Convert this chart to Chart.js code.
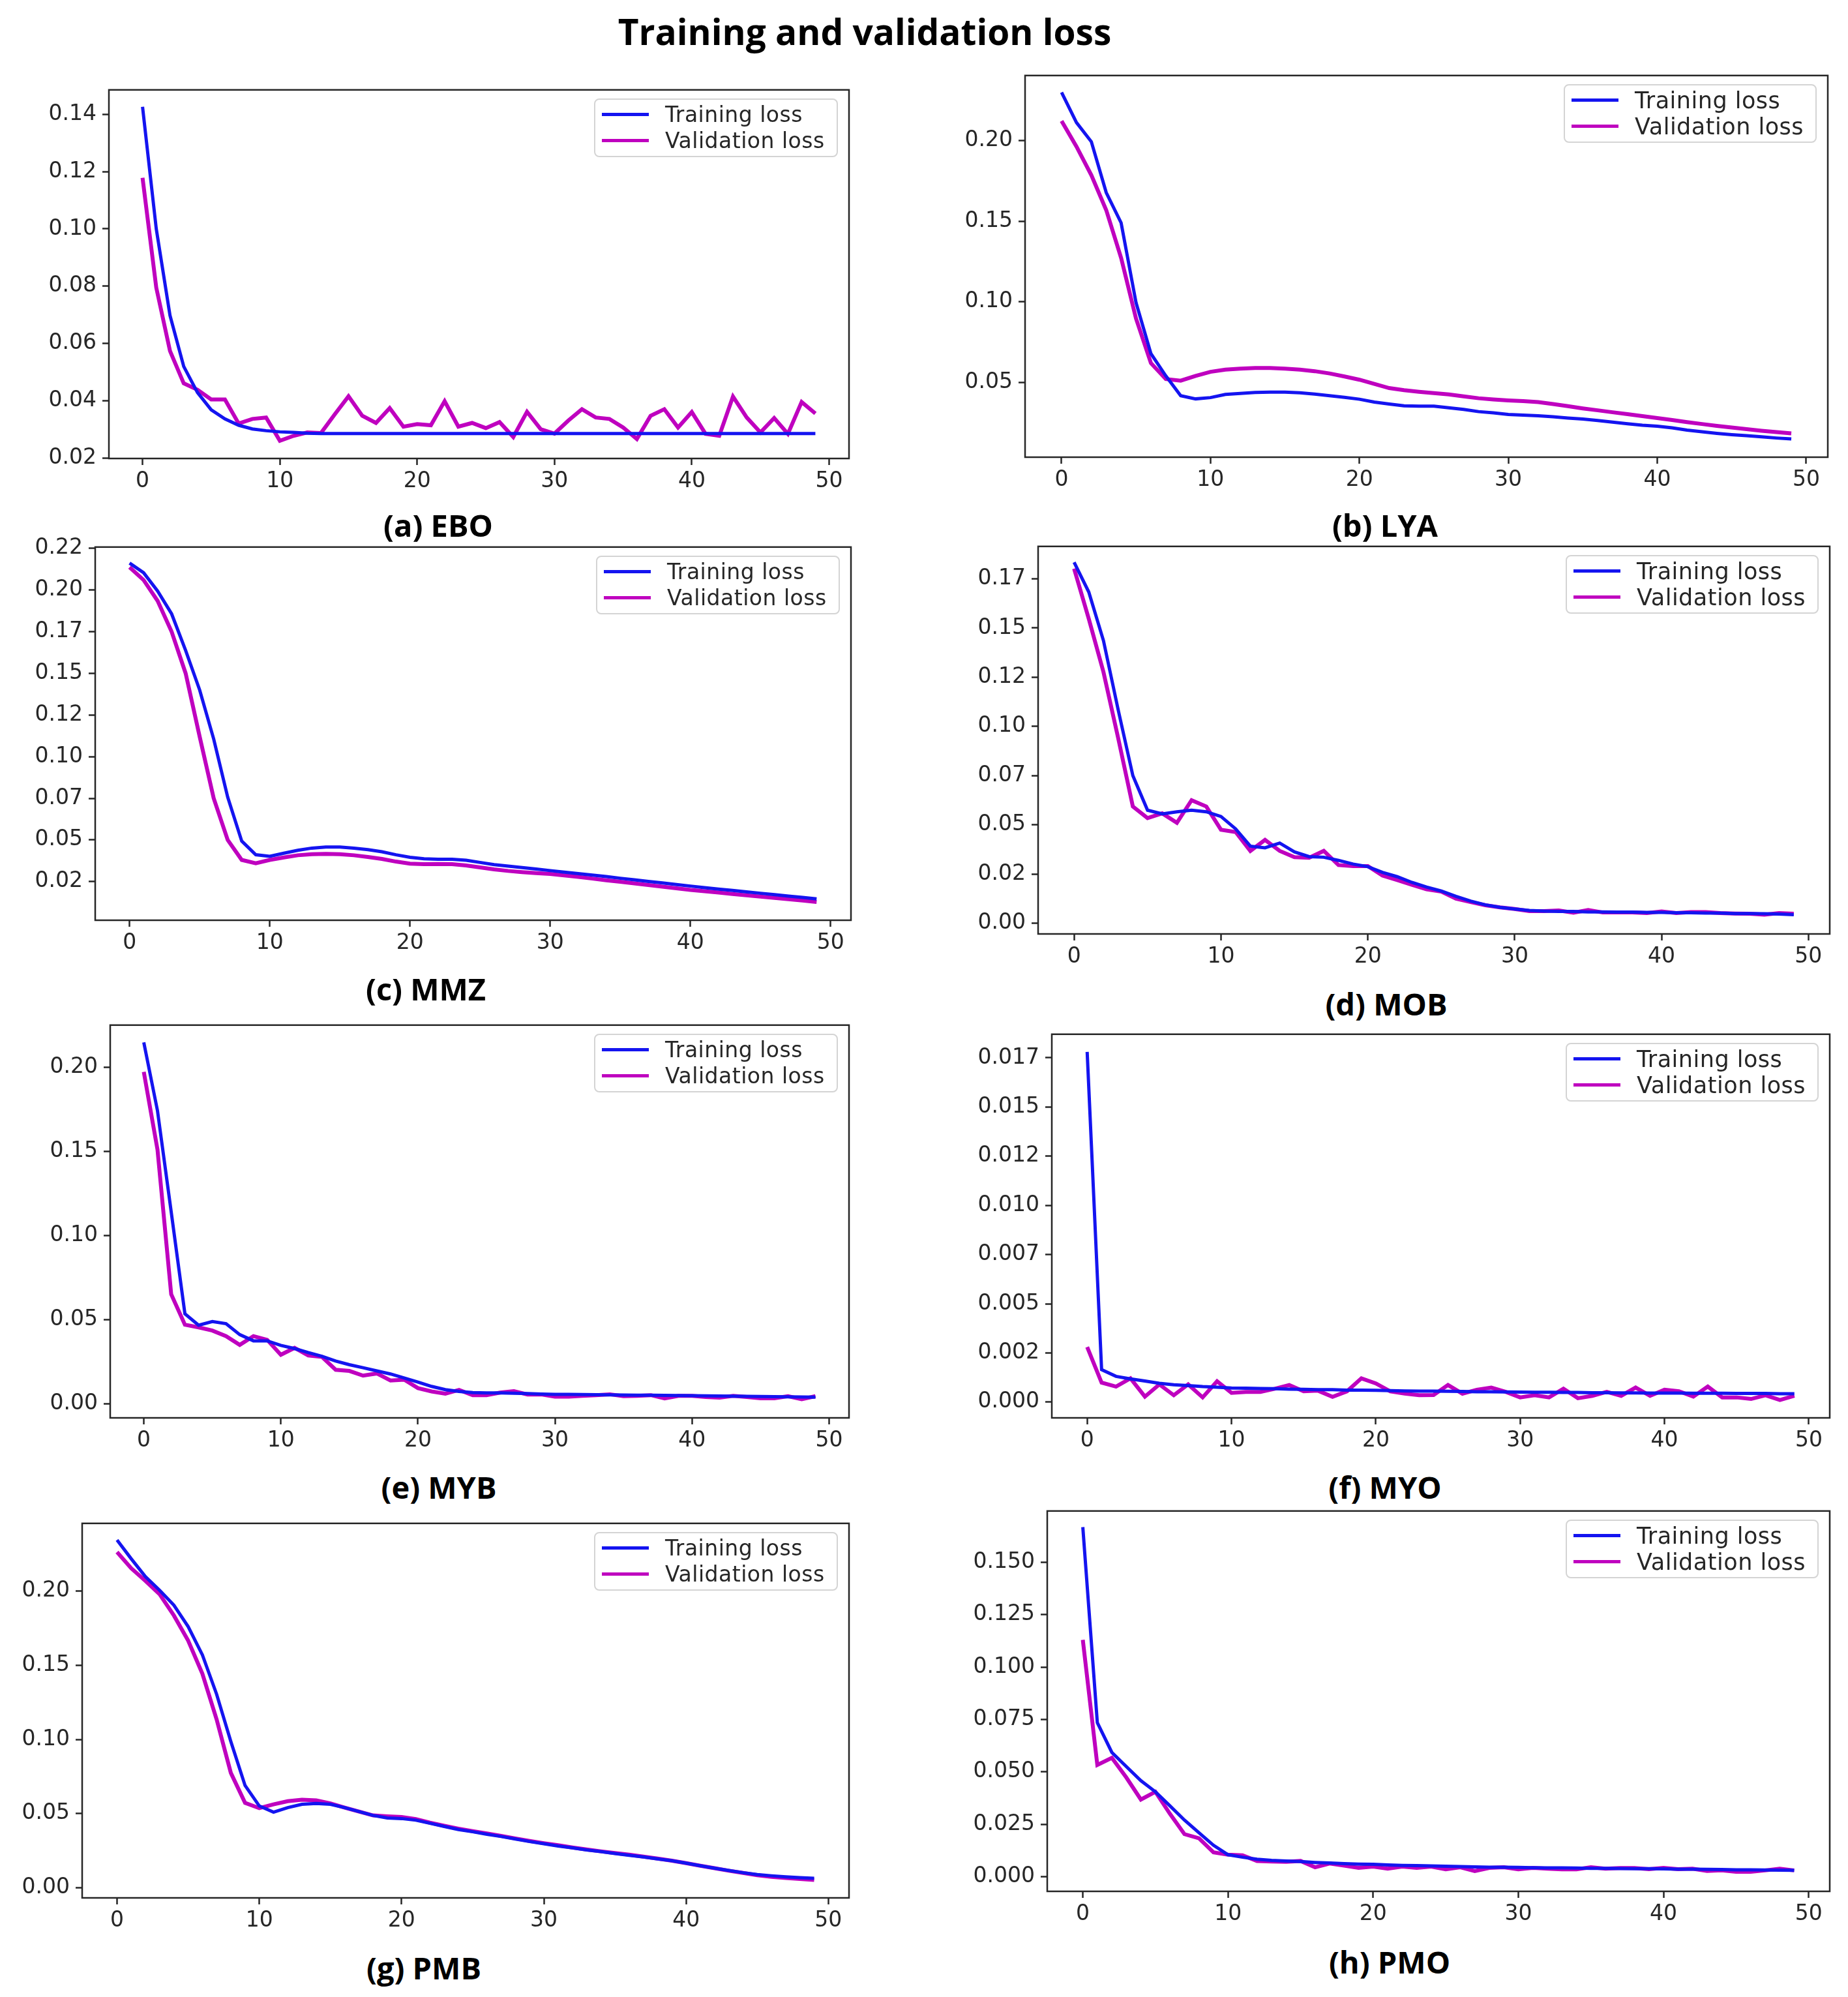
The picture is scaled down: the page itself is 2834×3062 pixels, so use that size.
<!DOCTYPE html>
<html>
<head>
<meta charset="utf-8">
<title>Training and validation loss</title>
<script src="https://cdn.jsdelivr.net/npm/chart.js@4.4.1/dist/chart.umd.min.js"></script>
<style>
body{margin:0;background:#fff;width:2834px;height:3062px;position:relative;overflow:hidden}
#title{position:absolute;left:1326px;top:47px;transform:translate(-50%,-50%);font-family:"Open Sans";font-weight:bold;font-size:55px;white-space:nowrap;color:#000}
.panel{position:absolute}
.caption{position:absolute;transform:translate(-50%,-50%);font-family:"Open Sans";font-weight:bold;font-size:47px;white-space:nowrap;color:#000}
.legend{position:absolute;background:rgba(255,255,255,0.85);border:2px solid #d4d4d4;border-radius:8px;padding:3px 18px 3px 10px;font-family:"DejaVu Sans";color:#262626;letter-spacing:0.5px}
.legend div{display:flex;align-items:center;height:40px}
.legend span{display:inline-block;width:72px;height:5px;margin-right:25px}
</style>
</head>
<body>
<div id="title">Training and validation loss</div>
<script>

// epochs
let epochs=[0,1,2,3,4,5,6,7,8,9,10,11,12,13,14,15,16,17,18,19,20,21,22,23,24,25,26,27,28,29,30,31,32,33,34,35,36,37,38,39,40,41,42,43,44,45,46,47,48,49]
let xTicks=[0,10,20,30,40,50]

// (a) EBO
let eboTrain=[0.1426,0.100,0.0698,0.052,0.0429,0.0369,0.0337,0.0315,0.0302,0.0296,
0.0292,0.029,0.0287,0.0286,0.0286,0.0286,0.0286,0.0286,0.0286,0.0286,
0.0286,0.0286,0.0286,0.0286,0.0286,0.0286,0.0286,0.0286,0.0286,0.0286,
0.0286,0.0286,0.0286,0.0286,0.0286,0.0286,0.0286,0.0286,0.0286,0.0286,
0.0286,0.0286,0.0286,0.0286,0.0286,0.0286,0.0286,0.0286,0.0286,0.0286]
let eboVal=[0.1178,0.0795,0.0574,0.0461,0.0439,0.0405,0.0405,0.0321,0.0337,0.0342,
0.0261,0.0278,0.029,0.0288,0.0353,0.0416,0.0348,0.0323,0.0375,0.031,
0.0319,0.0315,0.0399,0.031,0.0323,0.0305,0.0326,0.0274,0.0362,0.0301,
0.0286,0.0331,0.0371,0.0342,0.0337,0.0307,0.0267,0.0348,0.0371,0.0307,
0.0361,0.0285,0.0278,0.0415,0.0342,0.029,0.034,0.0285,0.0396,0.0356]
let eboTicks=[0.02,0.04,0.06,0.08,0.10,0.12,0.14]
let eboLabels=["0.02","0.04","0.06","0.08","0.10","0.12","0.14"]

// (b) LYA
let lyaTrain=[0.230,0.2113,0.1994,0.1678,0.149,0.0995,0.0678,0.054,0.0417,0.0397,
0.0405,0.0425,0.0431,0.0437,0.0439,0.0439,0.0435,0.0427,0.0417,0.0407,
0.0395,0.0377,0.0365,0.0354,0.0352,0.0352,0.0342,0.0332,0.0318,0.031,
0.030,0.0296,0.0292,0.0286,0.0278,0.0272,0.0263,0.0253,0.0243,0.0233,
0.0227,0.0217,0.0203,0.0193,0.0183,0.0175,0.0169,0.0162,0.0154,0.0148]
let lyaVal=[0.2123,0.1964,0.1786,0.1569,0.1272,0.0896,0.0619,0.052,0.051,0.054,
0.0565,0.0579,0.0585,0.0589,0.0589,0.0585,0.0579,0.0569,0.0555,0.0536,
0.0516,0.049,0.0464,0.0451,0.0441,0.0433,0.0425,0.0413,0.0401,0.0393,
0.0387,0.0383,0.0377,0.0365,0.0352,0.0338,0.0326,0.0314,0.0302,0.029,
0.0278,0.0266,0.0253,0.0241,0.0229,0.0219,0.0209,0.0199,0.0191,0.0183]
let lyaTicks=[0.05,0.10,0.15,0.20]
let lyaLabels=["0.05","0.10","0.15","0.20"]

// (c) MMZ
let mmzTrain=[0.2162,0.2104,0.1994,0.1857,0.1637,0.140,0.1106,0.0757,0.0493,0.0411,
0.0402,0.042,0.0438,0.0451,0.0457,0.0457,0.0451,0.0442,0.0429,0.0411,
0.0396,0.0387,0.0384,0.0384,0.0378,0.0365,0.0352,0.0343,0.0334,0.0325,
0.0316,0.0307,0.0298,0.0289,0.028,0.027,0.0261,0.0251,0.0242,0.0232,
0.0223,0.0214,0.0205,0.0197,0.0188,0.018,0.0172,0.0163,0.0155,0.0146]
let mmzVal=[0.2137,0.206,0.1935,0.175,0.150,0.112,0.075,0.050,0.038,0.036,
0.038,0.0395,0.0408,0.0414,0.0416,0.0414,0.0408,0.0398,0.0386,0.037,
0.0358,0.0355,0.0356,0.0355,0.0347,0.0335,0.0323,0.0314,0.0307,0.0301,
0.0296,0.0287,0.0278,0.0268,0.0258,0.0249,0.0239,0.0229,0.022,0.021,
0.020,0.0192,0.0184,0.0176,0.0168,0.016,0.0152,0.0144,0.0136,0.0128]
let mmzTicks=[0.025,0.05,0.075,0.10,0.125,0.15,0.175,0.20,0.225]
let mmzLabels=["0.02","0.05","0.07","0.10","0.12","0.15","0.17","0.20","0.22"]

// (d) MOB
let mobTrain=[0.1834,0.1683,0.1436,0.1085,0.075,0.0574,0.0555,0.0566,0.0574,0.0566,
0.0542,0.0479,0.0391,0.0383,0.0407,0.0362,0.0338,0.0335,0.0319,0.030,
0.0287,0.0258,0.0236,0.0207,0.0183,0.0163,0.0136,0.0112,0.0093,0.008,
0.0072,0.0064,0.0061,0.0059,0.0059,0.0057,0.0057,0.0056,0.0056,0.0054,
0.0054,0.0053,0.0053,0.0051,0.0051,0.0049,0.0049,0.0048,0.0046,0.0043]
let mobVal=[0.1802,0.1547,0.1276,0.0941,0.0593,0.0534,0.0558,0.051,0.0625,0.0593,
0.0475,0.0463,0.0367,0.0423,0.0367,0.0335,0.0332,0.0367,0.0295,0.029,
0.029,0.0242,0.0219,0.0195,0.0172,0.016,0.0124,0.0107,0.0091,0.008,
0.0072,0.0061,0.0061,0.0064,0.0053,0.0067,0.0054,0.0054,0.0054,0.0051,
0.0059,0.0051,0.0056,0.0056,0.0051,0.0049,0.0048,0.0043,0.0051,0.0048]
let mobTicks=[0,0.025,0.05,0.075,0.10,0.125,0.15,0.175]
let mobLabels=["0.00","0.02","0.05","0.07","0.10","0.12","0.15","0.17"]

// (e) MYB
let mybTrain=[0.2147,0.1741,0.114,0.0534,0.0466,0.0488,0.0475,0.041,0.0373,0.0373,
0.0346,0.0327,0.0303,0.0281,0.0253,0.0231,0.0213,0.0194,0.0176,0.0152,
0.0128,0.0102,0.0083,0.0072,0.0065,0.0063,0.0063,0.0061,0.0059,0.0057,
0.0055,0.0055,0.0054,0.0053,0.0052,0.0051,0.005,0.005,0.0049,0.0048,
0.0047,0.0046,0.0045,0.0044,0.0043,0.0042,0.0041,0.004,0.0039,0.0038]
let mybVal=[0.1972,0.151,0.065,0.0469,0.0453,0.0434,0.0401,0.0349,0.0401,0.0379,
0.029,0.0331,0.0286,0.0277,0.0201,0.0194,0.0166,0.0179,0.0137,0.0142,
0.0092,0.0072,0.0059,0.0081,0.005,0.005,0.0065,0.0074,0.0054,0.0054,
0.0041,0.0041,0.0046,0.005,0.0055,0.0044,0.0046,0.005,0.0031,0.0046,
0.0046,0.0039,0.0035,0.0046,0.0039,0.0031,0.0031,0.0044,0.0026,0.0044]
let mybTicks=[0,0.05,0.10,0.15,0.20]
let mybLabels=["0.00","0.05","0.10","0.15","0.20"]

// (f) MYO
let myoTrain=[0.0178,0.00165,0.00131,0.00118,0.00107,0.00096,0.00088,0.00084,0.00079,0.00076,
0.00072,0.00071,0.00069,0.00068,0.00066,0.00065,0.00063,0.00063,0.00061,0.00061,
0.0006,0.00058,0.00057,0.00056,0.00056,0.00055,0.00054,0.00053,0.00053,0.00052,
0.00051,0.0005,0.0005,0.00049,0.00049,0.00048,0.00048,0.00047,0.00047,0.00046,
0.00046,0.00046,0.00045,0.00045,0.00045,0.00044,0.00044,0.00044,0.00043,0.00043]
let myoVal=[0.0028,0.00099,0.00079,0.00121,0.00028,0.0009,0.00035,0.0009,0.00024,0.00106,
0.00047,0.00052,0.00052,0.00068,0.00087,0.00055,0.00058,0.00027,0.00055,0.00121,
0.00095,0.00055,0.00043,0.00035,0.00036,0.00087,0.00043,0.00063,0.00074,0.00052,
0.00024,0.00035,0.00024,0.00068,0.0002,0.00032,0.00052,0.00032,0.00074,0.00032,
0.00063,0.00055,0.00028,0.00079,0.00024,0.00024,0.00016,0.00035,0.00011,0.00032]
let myoTicks=[0,0.0025,0.005,0.0075,0.010,0.0125,0.015,0.0175]
let myoLabels=["0.000","0.002","0.005","0.007","0.010","0.012","0.015","0.017"]

// (g) PMB
let pmbTrain=[0.2346,0.2219,0.2098,0.2006,0.1906,0.1762,0.1571,0.1306,0.0987,0.069,
0.0552,0.051,0.0541,0.0563,0.0569,0.0563,0.0541,0.0514,0.0488,0.0471,
0.0467,0.0456,0.0435,0.0414,0.0393,0.0378,0.0361,0.0346,0.0329,0.0312,
0.0297,0.0282,0.027,0.0255,0.0244,0.0231,0.0219,0.0208,0.0195,0.0183,
0.0166,0.0149,0.0132,0.0117,0.0102,0.0089,0.0081,0.0074,0.0068,0.0064]
let pmbVal=[0.2265,0.2155,0.207,0.1979,0.1836,0.1667,0.1444,0.1136,0.0775,0.0573,
0.0537,0.0563,0.0584,0.0594,0.059,0.0569,0.0541,0.0514,0.0488,0.0482,
0.0478,0.0463,0.0439,0.0418,0.0399,0.0382,0.0367,0.035,0.0333,0.0316,
0.0301,0.0287,0.0272,0.0259,0.0246,0.0234,0.0223,0.021,0.0197,0.0183,
0.0166,0.0149,0.0132,0.0115,0.01,0.0085,0.0074,0.0066,0.0059,0.0053]
let pmbTicks=[0,0.05,0.10,0.15,0.20]
let pmbLabels=["0.00","0.05","0.10","0.15","0.20"]

// (h) PMO
let pmoTrain=[0.1668,0.0735,0.0593,0.0525,0.0458,0.0405,0.0338,0.027,0.021,0.015,
0.0105,0.0093,0.0083,0.0078,0.0075,0.0072,0.0068,0.0065,0.0062,0.006,
0.0059,0.0056,0.0054,0.0053,0.0051,0.005,0.0048,0.0047,0.0045,0.0045,
0.0044,0.0043,0.0042,0.0042,0.0041,0.004,0.004,0.0039,0.0038,0.0038,
0.0037,0.0036,0.0036,0.0035,0.0034,0.0033,0.0033,0.0032,0.0031,0.003]
let pmoVal=[0.113,0.0533,0.0567,0.0473,0.0368,0.0405,0.03,0.0203,0.0183,0.0116,
0.0105,0.0102,0.0075,0.0072,0.0071,0.0075,0.0045,0.0063,0.0053,0.0042,
0.0048,0.0038,0.0048,0.0042,0.0048,0.0035,0.0045,0.0027,0.0042,0.0045,
0.0035,0.0042,0.0038,0.0035,0.0035,0.0045,0.0038,0.0041,0.0041,0.0036,
0.0042,0.0036,0.0038,0.0027,0.003,0.0023,0.0023,0.003,0.0038,0.003]
let pmoTicks=[0,0.025,0.05,0.075,0.10,0.125,0.15]
let pmoLabels=["0.000","0.025","0.050","0.075","0.100","0.125","0.150"]

// layout: plot box [left, top, right, bottom], y range, caption centre, font sizes
let panels=[
{caption:"(a) EBO",train:eboTrain,val:eboVal,ticks:eboTicks,labels:eboLabels,ymin:0.0199,ymax:0.1485,box:[167,135,1302,703],cap:[672,805],fs:33,ls:33},
{caption:"(b) LYA",train:lyaTrain,val:lyaVal,ticks:lyaTicks,labels:lyaLabels,ymin:0.0035,ymax:0.2405,box:[1572,113,2803,701],cap:[2124,805],fs:33,ls:35},
{caption:"(c) MMZ",train:mmzTrain,val:mmzVal,ticks:mmzTicks,labels:mmzLabels,ymin:0.0018,ymax:0.2258,box:[146,836,1305,1411],cap:[653,1516],fs:33,ls:33},
{caption:"(d) MOB",train:mobTrain,val:mobVal,ticks:mobTicks,labels:mobLabels,ymin:-0.0055,ymax:0.1915,box:[1592,835,2806,1432],cap:[2126,1539],fs:33,ls:35},
{caption:"(e) MYB",train:mybTrain,val:mybVal,ticks:mybTicks,labels:mybLabels,ymin:-0.0085,ymax:0.2250,box:[169,1569,1302,2174],cap:[673,2280],fs:33,ls:33},
{caption:"(f) MYO",train:myoTrain,val:myoVal,ticks:myoTicks,labels:myoLabels,ymin:-0.0008,ymax:0.0187,box:[1613,1583,2806,2174],cap:[2124,2280],fs:33,ls:35},
{caption:"(g) PMB",train:pmbTrain,val:pmbVal,ticks:pmbTicks,labels:pmbLabels,ymin:-0.0068,ymax:0.2458,box:[126,2333,1302,2910],cap:[650,3017],fs:33,ls:33},
{caption:"(h) PMO",train:pmoTrain,val:pmoVal,ticks:pmoTicks,labels:pmoLabels,ymin:-0.0070,ymax:0.1745,box:[1606,2314,2806,2900],cap:[2131,3008],fs:33,ls:35}
]

let blue="#1414f0"
let magenta="#bf00bf"
let yW=134, xH=74, padT=26, padR=18

// full box around the plot area, like matplotlib
let framePlugin={
id:"frame",
afterDraw(chart){
let a=chart.chartArea
let c=chart.ctx
c.save()
c.strokeStyle="#262626"
c.lineWidth=2.5
c.strokeRect(a.left,a.top,a.right-a.left,a.bottom-a.top)
c.restore()
}
}

function makeLegend(chart,div,size){
let a=chart.chartArea
let box=document.createElement("div")
box.className="legend"
box.style.fontSize=size+"px"
chart.data.datasets.forEach(ds=>{
let row=document.createElement("div")
let sw=document.createElement("span")
sw.style.background=ds.borderColor
row.appendChild(sw)
row.appendChild(document.createTextNode(ds.label))
box.appendChild(row)
})
div.appendChild(box)
box.style.top=(a.top+13)+"px"
box.style.left=(a.right-17-box.offsetWidth)+"px"
}

function makeChart(p){

let div=document.createElement("div")
div.className="panel"
div.style.left=(p.box[0]-yW)+"px"
div.style.top=(p.box[1]-padT)+"px"
div.style.width=(p.box[2]-p.box[0]+yW+padR)+"px"
div.style.height=(p.box[3]-p.box[1]+padT+xH)+"px"
let canvas=document.createElement("canvas")
div.appendChild(canvas)
document.body.appendChild(div)

let tickFont={family:"DejaVu Sans",size:p.fs}

let chart=new Chart(canvas,{
type:"line",
data:{
datasets:[{
label:"Training loss",
data:p.train.map((v,i)=>({x:epochs[i],y:v})),
borderColor:blue,
borderWidth:5,
pointRadius:0,
tension:0
},{
label:"Validation loss",
data:p.val.map((v,i)=>({x:epochs[i],y:v})),
borderColor:magenta,
borderWidth:6,
pointRadius:0,
tension:0
}]
},
options:{
responsive:true,
maintainAspectRatio:false,
animation:false,
events:[],
layout:{padding:{top:padT,right:padR,left:0,bottom:0}},
plugins:{legend:{display:false},tooltip:{enabled:false}},
scales:{
x:{
type:"linear",
min:-2.45,
max:51.45,
afterBuildTicks:s=>{s.ticks=xTicks.map(v=>({value:v}))},
afterFit:s=>{s.height=xH},
ticks:{font:tickFont,color:"#262626",padding:6,maxRotation:0,autoSkip:false,callback:v=>String(v)},
grid:{drawOnChartArea:false,drawTicks:true,tickLength:10,tickWidth:2.5,tickColor:"#262626"},
border:{display:false}
},
y:{
type:"linear",
min:p.ymin,
max:p.ymax,
afterBuildTicks:s=>{s.ticks=p.ticks.map(v=>({value:v}))},
afterFit:s=>{s.width=yW},
ticks:{font:tickFont,color:"#262626",padding:9,autoSkip:false,callback:(v,i)=>p.labels[i]},
grid:{drawOnChartArea:false,drawTicks:true,tickLength:10,tickWidth:2.5,tickColor:"#262626"},
border:{display:false}
}
}
},
plugins:[framePlugin]
})

makeLegend(chart,div,p.ls)

let cap=document.createElement("div")
cap.className="caption"
cap.textContent=p.caption
cap.style.left=p.cap[0]+"px"
cap.style.top=p.cap[1]+"px"
document.body.appendChild(cap)

}

panels.forEach(makeChart)

</script>
</body>
</html>
